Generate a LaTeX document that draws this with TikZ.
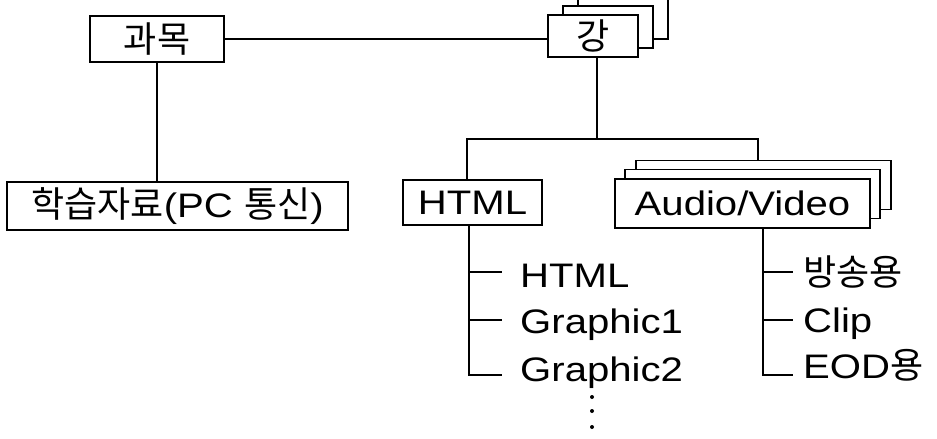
\documentclass[tikz,border=0pt]{standalone}
\usepackage{fontspec}
\setmainfont{Liberation Sans}[FakeStretch=1.18]
\newfontfamily\kr{Noto Sans CJK KR}
\newcommand\hg[1]{{\kr\fontsize{36}{40}\selectfont #1}}
\begin{document}
\begin{tikzpicture}[x=1pt,y=-1pt,
  every node/.style={font=\fontsize{34}{40}\selectfont, inner sep=0pt},
  card/.style={draw, line width=1.8pt, fill=white},
  wire/.style={line width=2pt},
  item/.style={anchor=base west}]
\useasboundingbox (0,0) rectangle (937,439);

% course box and its lecture stack
\node[card, minimum width=134pt, minimum height=46pt] (gwamok) at (157,39) {\hg{과목}};
\node[card, minimum width=90pt, minimum height=42pt] (kang3) at (623,18) {};
\node[card, minimum width=90pt, minimum height=42pt] (kang2) at (608,27) {};
\node[card, minimum width=90pt, minimum height=42pt] (kang) at (593,36) {\hg{강}};

% learning material box
\node[card, minimum width=341pt, minimum height=48pt] (haksup) at (177.5,206) {\hg{학습자료}(PC \hg{통신})};

% content boxes
\node[card, minimum width=139pt, minimum height=45pt] (html) at (472.5,202.5) {HTML};
\node[card, minimum width=255pt, minimum height=49pt] (av3) at (763.5,185) {};
\node[card, minimum width=255pt, minimum height=49pt] (av2) at (752.5,194) {};
\node[card, minimum width=255pt, minimum height=49pt] (av) at (742.5,203.5) {Audio/Video};

% course connections
\draw[wire] (gwamok.east) -- (gwamok.east -| kang.west);
\draw[wire] (gwamok.south) -- (gwamok.south |- haksup.north);

% lecture bus
\coordinate (kdrop) at (597,57);
\coordinate (busL) at (467,139);
\coordinate (busR) at (758,139);
\draw[wire] (kdrop) -- (kdrop |- busL);
\draw[wire] (html.north -| busL) -- (busL) -- (busR) -- (busR |- av3.north);

% HTML items
\node[item] (h1) at (520,287) {HTML};
\node[item] (h2) at (520,333) {Graphic1};
\node[item] (h3) at (520,381) {Graphic2};
\coordinate (hb1) at (502,272);
\coordinate (hb2) at (502,320);
\coordinate (hb3) at (502,375);
\coordinate (htrunk) at (469,0);
\draw[wire] (html.south -| htrunk) -- (htrunk |- hb3) -- (hb3);
\draw[wire] (htrunk |- hb1) -- (hb1);
\draw[wire] (htrunk |- hb2) -- (hb2);

% Audio/Video items
\node[item] (a1) at (803,285) {\hg{방송용}};
\node[item] (a2) at (803,332) {Clip};
\node[item] (a3) at (803,378) {EOD\hg{용}};
\coordinate (ab1) at (793,272);
\coordinate (ab2) at (793,320);
\coordinate (ab3) at (793,375);
\coordinate (atrunk) at (763,0);
\draw[wire] (av.south -| atrunk) -- (atrunk |- ab3) -- (ab3);
\draw[wire] (atrunk |- ab1) -- (ab1);
\draw[wire] (atrunk |- ab2) -- (ab2);

% continuation dots
\foreach \yy in {397,411,427} \fill (592,\yy) circle (2pt);
\end{tikzpicture}
\end{document}
